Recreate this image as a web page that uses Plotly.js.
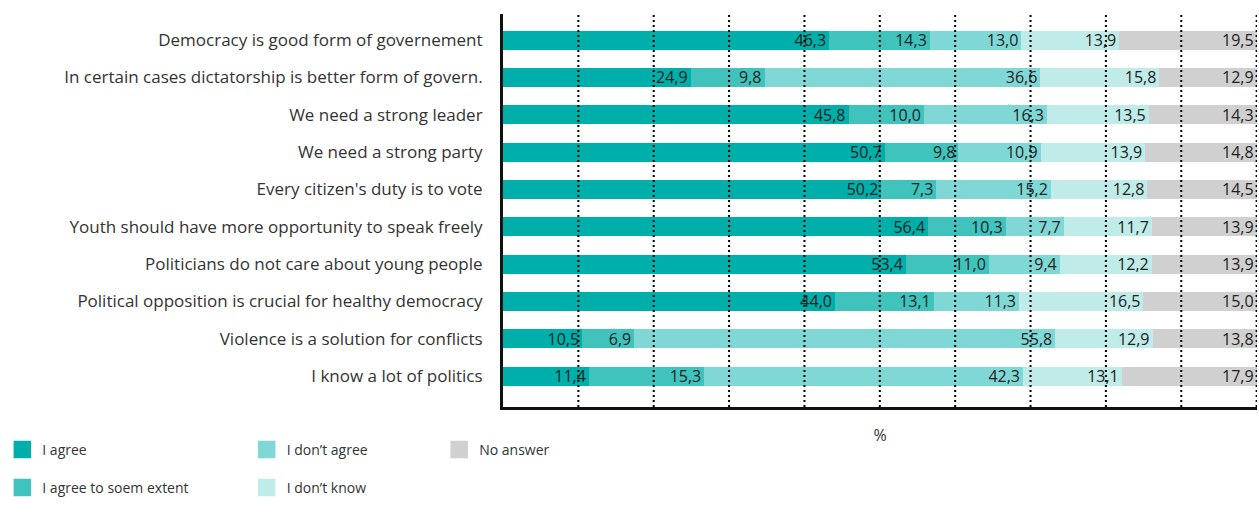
<!DOCTYPE html>
<html>
<head>
<meta charset="utf-8">
<script src="https://cdn.plot.ly/plotly-3.0.1.min.js"></script>
<style>html,body{margin:0;padding:0;background:#fff;}#chart{width:1259px;height:528px;}</style>
</head>
<body>
<div id="chart"></div>
<script>
const categories = [
  "Democracy is good form of governement",
  "In certain cases dictatorship is better form of govern.",
  "We need a strong leader",
  "We need a strong party",
  "Every citizen's duty is to vote",
  "Youth should have more opportunity to speak freely",
  "Politicians do not care about young people",
  "Political opposition is crucial for healthy democracy",
  "Violence is a solution for conflicts",
  "I know a lot of politics"
];
const seriesNames = ["I agree", "I agree to soem extent", "I don\u2019t agree", "I don\u2019t know", "No answer"];
const agree        = [46.3, 24.9, 45.8, 50.7, 50.2, 56.4, 53.4, 44.0, 10.5, 11.4];
const agreeSome    = [14.3,  9.8, 10.0,  9.8,  7.3, 10.3, 11.0, 13.1,  6.9, 15.3];
const disagree     = [13.0, 36.6, 16.3, 10.9, 15.2,  7.7,  9.4, 11.3, 55.8, 42.3];
const dontKnow     = [13.9, 15.8, 13.5, 13.9, 12.8, 11.7, 12.2, 16.5, 12.9, 13.1];
const noAnswer     = [19.5, 12.9, 14.3, 14.8, 14.5, 13.9, 13.9, 15.0, 13.8, 17.9];
const seriesValues = [agree, agreeSome, disagree, dontKnow, noAnswer];
const colors = ["#00AFA9", "#40C3BD", "#80D8D6", "#BFEBE9", "#D0D0D0"];
const gridTicks = [10, 20, 30, 40, 50, 60, 70, 80, 90, 100];

const FONT = "Open Sans, Noto Sans, sans-serif";
const legendPos = [
  {x: 8, y: 450}, {x: 8, y: 488},
  {x: 253, y: 450}, {x: 253, y: 488},
  {x: 446, y: 450}
];
const L = 501, R = 2, T = 14, B = 121, W = 1259, H = 528;
const pw = W - L - R, ph = H - T - B;

const legendKey = i => (i === 0 ? "legend" : "legend" + (i + 1));

const traces = seriesValues.map((vals, i) => ({
  type: "bar",
  orientation: "h",
  name: seriesNames[i],
  y: categories,
  x: vals,
  text: vals.map(v => v.toFixed(1).replace(".", ",")),
  texttemplate: "%{text}",
  textposition: "inside",
  insidetextanchor: "end",
  constraintext: "none",
  textangle: 0,
  textfont: {family: FONT, size: 16, color: "#222"},
  marker: {color: colors[i], line: {width: 0}},
  hoverinfo: "skip",
  showlegend: false,
  cliponaxis: false
}));

// legend entries (square swatches)
seriesNames.forEach((n, i) => {
  traces.push({
    type: "scatter", mode: "markers", name: n,
    x: [null], y: [null],
    marker: {symbol: "square", size: 16, color: colors[i], line: {width: 1.5, color: colors[i]}},
    legend: legendKey(i), showlegend: true, hoverinfo: "skip"
  });
});

// dotted gridlines drawn above the bars, as in the reference
const gridShapes = gridTicks.map(v => ({
  type: "line", layer: "above",
  xref: "x", yref: "paper",
  x0: v, x1: v, y0: 0, y1: 1,
  line: {color: "#000", width: 2, dash: "2px,3px"}
}));

const layout = {
  width: W, height: H,
  margin: {l: L, r: R, t: T, b: B, pad: 0},
  paper_bgcolor: "#fff", plot_bgcolor: "#fff",
  barmode: "stack",
  barnorm: "percent",
  bargap: 0.49,
  font: {family: FONT, size: 16, color: "#333"},
  showlegend: true,
  shapes: gridShapes,
  xaxis: {
    range: [0, 100.05], dtick: 10, tick0: 0,
    showticklabels: false, ticks: "",
    showgrid: false,
    zeroline: false,
    showline: true, linecolor: "#111", linewidth: 3,
    layer: "above traces",
    title: {text: "%", font: {family: FONT, size: 16, color: "#333"}, standoff: 21},
    fixedrange: true
  },
  yaxis: {
    type: "category",
    range: [9.83, -0.7],
    showgrid: false, zeroline: false,
    showline: true, linecolor: "#111", linewidth: 3,
    layer: "above traces",
    ticks: "", ticklabelstandoff: 14,
    tickfont: {family: FONT, size: 17, color: "#333"},
    fixedrange: true
  }
};
legendPos.forEach((p, i) => {
  layout[legendKey(i)] = {
    x: (p.x - L - 9) / pw, y: 1 - (p.y - T - 16) / ph,
    xanchor: "left", yanchor: "top",
    orientation: "v", bgcolor: "rgba(0,0,0,0)",
    font: {family: FONT, size: 14, color: "#333"},
    itemsizing: "trace",
    itemclick: false, itemdoubleclick: false
  };
});

Plotly.newPlot("chart", traces, layout, {displayModeBar: false, staticPlot: true});
</script>
</body>
</html>
